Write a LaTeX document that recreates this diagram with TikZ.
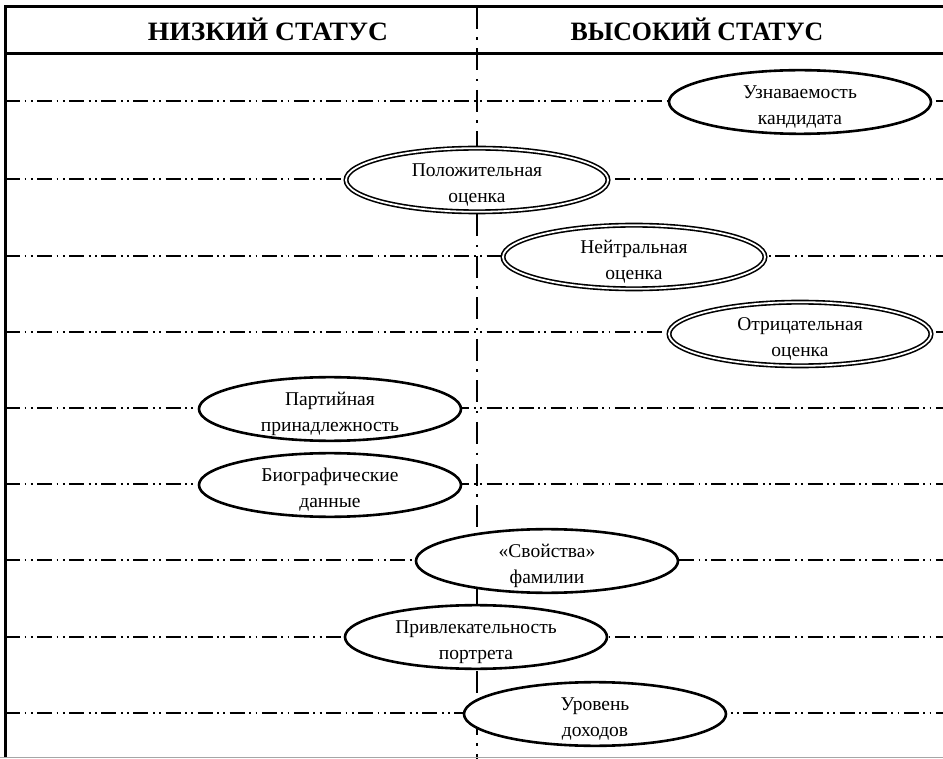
\documentclass[tikz,border=0pt]{standalone}
\usepackage{fontspec}
\setmainfont{Liberation Serif}
\usetikzlibrary{shapes.geometric}
\begin{document}
\begin{tikzpicture}[x=1pt,y=-1pt,
  guide/.style={line width=1.8pt, dash pattern=on 15pt off 4.5pt on 1.8pt off 4.5pt on 1.8pt off 4.5pt},
  divider/.style={line width=2.6pt, dash pattern=on 22pt off 8.5pt on 2.5pt off 8.5pt},
  factor/.style={ellipse, draw, line width=2.6pt, fill=white, minimum width=262pt,
    minimum height=62pt, inner sep=0pt, align=center, text height=45pt, text depth=0pt,
    font=\fontsize{19.5}{26}\selectfont},
  rating/.style={factor, line width=1.6pt, double, double distance=1.8pt},
  head/.style={font=\fontsize{26.5}{30}\selectfont\bfseries, anchor=base, inner sep=0pt}]
\useasboundingbox (0,0) rectangle (943,759);

% horizontal guide lines, one per factor
\foreach \i/\y in {1/101,2/179,3/256,4/332,5/408,6/484,7/560,8/637,9/713}{
  \coordinate (gl\i) at (5,\y);
  \coordinate (gr\i) at (943,\y);
  \draw[guide] (gl\i) -- (gr\i);
}

% dash-dot divider between the two columns
\coordinate (dtop) at (477,7);
\coordinate (dbot) at (477,759);
\draw[divider] (dtop) -- (dbot);

% frame and header rule
\coordinate (ftr) at (943,7);
\coordinate (fbl) at (5,757);
\draw[line width=3pt] (ftr) -| (fbl);
\coordinate (hl) at (5,54);
\coordinate (hr) at (943,54);
\draw[line width=3pt] (hl) -- (hr);
\coordinate (bl) at (0,757.5);
\coordinate (br) at (943,757.5);
\draw[gray!70, line width=1.2pt] (bl) -- (br);

% column headings
\node[head, xscale=1.04] (low) at (268,40.5) {НИЗКИЙ СТАТУС};
\node[head, xscale=0.975] (high) at (697,40.5) {ВЫСОКИЙ СТАТУС};

% factors
\node[factor] (f1) at (800,102) {Узнаваемость\\кандидата};
\node[rating] (f2) at (477,180) {Положительная\\оценка};
\node[rating] (f3) at (634,257) {Нейтральная\\оценка};
\node[rating] (f4) at (800,334) {Отрицательная\\оценка};
\node[factor] (f5) at (330,409) {Партийная\\принадлежность};
\node[factor] (f6) at (330,485) {Биографические\\данные};
\node[factor] (f7) at (547,561) {«Свойства»\\фамилии};
\node[factor] (f8) at (476,637) {Привлекательность\\портрета};
\node[factor] (f9) at (595,714) {Уровень\\доходов};
\end{tikzpicture}
\end{document}
